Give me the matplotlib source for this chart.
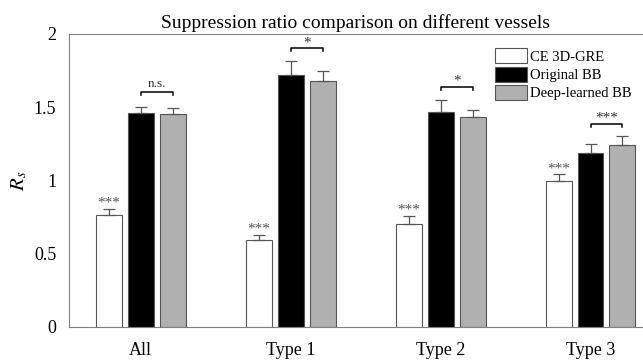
import matplotlib
matplotlib.use("Agg")
import matplotlib.pyplot as plt
import numpy as np

plt.rcParams['font.family'] = ['Liberation Serif', 'DejaVu Serif']
plt.rcParams['mathtext.fontset'] = 'stix'

groups = ["All", "Type 1", "Type 2", "Type 3"]
series = ["CE 3D-GRE", "Original BB", "Deep-learned BB"]
ce_gre = [0.765, 0.594, 0.70, 0.995]
ce_gre_err = [0.04, 0.032, 0.06, 0.045]
orig_bb = [1.46, 1.718, 1.465, 1.19]
orig_bb_err = [0.04, 0.10, 0.085, 0.055]
deep_bb = [1.455, 1.681, 1.43, 1.24]
deep_bb_err = [0.04, 0.062, 0.053, 0.06]
sig_ce = ["***", "***", "***", "***"]
sig_pair = ["n.s.", "*", "*", "***"]
bracket_y = [1.60, 1.90, 1.64, 1.385]

fig = plt.figure(figsize=(6.43, 3.6), dpi=100)
ax = fig.add_axes([0.107, 0.092, 0.893, 0.814])

x = np.arange(1, len(groups) + 1)
w = 0.173
off = 0.213
colors = ["white", "black", "#b0b0b0"]
vals = [ce_gre, orig_bb, deep_bb]
errs = [ce_gre_err, orig_bb_err, deep_bb_err]

for i in range(3):
    xs = x + (i - 1) * off
    ax.bar(xs, vals[i], w, color=colors[i], edgecolor="#555555", linewidth=0.8,
           label=series[i], zorder=2)
    ax.errorbar(xs, vals[i], yerr=[np.zeros(4), errs[i]], fmt="none",
                ecolor="#555555", elinewidth=0.9, capsize=4, capthick=0.9, zorder=3)

# stars over CE 3D-GRE
for k in range(len(groups)):
    ax.text(x[k] - off, ce_gre[k] + ce_gre_err[k] - 0.005, sig_ce[k],
            ha="center", va="bottom", fontsize=11, color="#555555")

# brackets between BB bars
for k in range(len(groups)):
    x0, x1 = x[k], x[k] + off
    y = bracket_y[k]
    ax.plot([x0, x0, x1, x1], [y - 0.02, y, y, y - 0.02], color="black", lw=1.1)
    if sig_pair[k] == "n.s.":
        ax.text((x0 + x1) / 2, y + 0.02, sig_pair[k], ha="center", va="bottom",
                fontsize=9.5, color="#333333")
    else:
        ax.text((x0 + x1) / 2, y - 0.005, sig_pair[k], ha="center", va="bottom",
                fontsize=11, color="#333333")

ax.set_xlim(0.52, 4.35)
ax.set_ylim(0, 2)
ax.set_xticks(x)
ax.set_xticklabels(groups, fontsize=13)
ax.set_yticks([0, 0.5, 1, 1.5, 2])
ax.set_yticklabels(["0", "0.5", "1", "1.5", "2"], fontsize=13)
ax.tick_params(axis="y", length=0, pad=9)
ax.tick_params(axis="x", length=0, pad=11)
for s in ["left", "bottom", "top"]:
    ax.spines[s].set_color("#808080")
ax.spines["right"].set_visible(False)
ax.set_ylabel("$R_s$", fontsize=15)
ax.yaxis.set_label_coords(-0.068, 0.5)
ax.set_title("Suppression ratio comparison on different vessels", fontsize=14, pad=4)

ax.legend(loc="upper right", bbox_to_anchor=(1.0, 0.99), frameon=False,
          fontsize=10.5, handlelength=2.2, handleheight=1.2, handletextpad=0.2,
          labelspacing=0.2, borderpad=0.3)

fig.savefig("out.png", dpi=100)
